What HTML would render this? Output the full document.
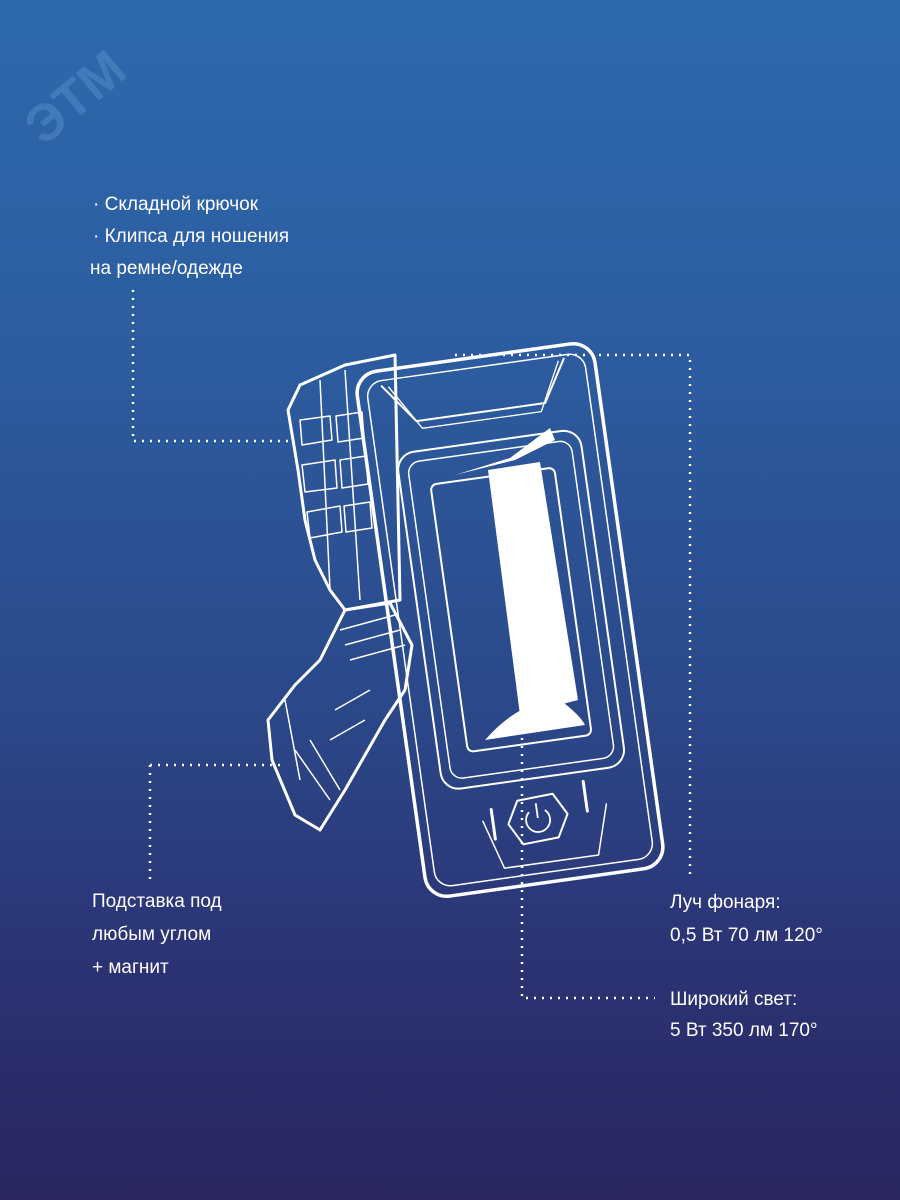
<!DOCTYPE html>
<html><head><meta charset="utf-8"><style>
html,body{margin:0;padding:0}
body{width:900px;height:1200px;overflow:hidden;background:linear-gradient(180deg,#2e69ae 0%,#2c5c9f 30%,#2b4788 60%,#2b3374 80%,#2a255f 100%);position:relative;font-family:"Liberation Sans Narrow","Liberation Sans",sans-serif;color:#fff}
.t{position:absolute;font-size:19px;line-height:32px;white-space:nowrap}
svg{position:absolute;left:0;top:0}
</style></head><body>
<svg width="900" height="1200" viewBox="0 0 900 1200">
<g opacity="0.35" fill="#6aa0d8">
<text x="30" y="130" font-family="Liberation Sans" font-weight="bold" font-size="52" transform="rotate(-40 60 120)">ЭТМ</text>
</g>
<g stroke="#fff" stroke-width="2.5" stroke-dasharray="2 6" fill="none">
<path d="M133 290 V441 H292"/>
<path d="M150 765 H282"/>
<path d="M150 765 V880"/>
<path d="M455 355 H690 V880"/>
<path d="M522 690 V998 H655"/>
</g>
<g fill="none" stroke="#fff" stroke-linejoin="round">
<!-- side grip -->
<path d="M300 385 L345 365 L395 355 L400 600 L345 610 L330 590 L315 560 L305 520 L298 470 L288 410 Z" stroke-width="3"/>
<path d="M320 380 L330 590 M345 370 L360 600" stroke-width="1.5"/>
<path d="M300 420 L330 416 L332 440 L302 445 Z M302 465 L335 460 L337 488 L305 492 Z M307 512 L340 506 L342 532 L310 538 Z M336 416 L362 412 L364 438 L338 442 Z M340 460 L366 456 L368 484 L342 488 Z M344 506 L370 502 L372 528 L346 532 Z" stroke-width="1.5"/>
<!-- stand clip -->
<path d="M345 610 L390 603 L412 645 L405 690 L385 720 L345 790 L320 830 L295 815 L272 760 L268 720 L295 685 L320 660 Z" stroke-width="3"/>
<path d="M340 630 L395 615 M345 645 L400 630 M350 660 L405 645 M335 710 L370 690 M330 740 L365 720 M295 750 L330 800 M310 740 L340 790 M285 700 L300 780" stroke-width="1.5"/>
<!-- main body -->
<g transform="translate(510 620) rotate(-8)">
<rect x="-120" y="-265" width="240" height="530" rx="22" stroke-width="3.5"/>
<rect x="-110" y="-255" width="220" height="510" rx="16" stroke-width="1.5"/>
<path d="M-95 -250 L-65 -210 L65 -210 L90 -252" stroke-width="2"/>
<path d="M-88 -248 L-60 -202 L60 -202 L84 -250" stroke-width="1.3"/>
<rect x="-90" y="-180" width="185" height="340" rx="18" stroke-width="2"/>
<rect x="-80" y="-170" width="165" height="320" rx="12" stroke-width="1.5"/>
<rect x="-60" y="-145" width="125" height="270" rx="6" stroke-width="2"/>
<path d="M-55 195 L-40 245 L55 245 L70 195" stroke-width="1.5"/>
<path d="M-18 180 L18 178 L30 200 L18 222 L-18 224 L-30 202 Z" stroke-width="2"/>
<path d="M-8 193 A12 12 0 1 0 8 193 M0 185 V200" stroke-width="1.8"/>
<path d="M-45 185 V215 M50 170 V200" stroke-width="3" stroke-linecap="round"/>
</g>
</g>
<!-- lens -->
<g fill="#fff">
<path d="M488 470 L540 462 L578 700 L520 715 Z"/>
<path d="M485 740 Q520 700 560 700 Q580 715 585 725 Z"/>
<path d="M455 475 L510 458 L550 428 L555 440 L515 460 Z"/>
</g>
</svg>
<div class="t" style="left:93px;top:189px">· Складной крючок</div>
<div class="t" style="left:93px;top:221px">· Клипса для ношения</div>
<div class="t" style="left:90px;top:253px">на ремне/одежде</div>
<div class="t" style="left:92px;top:886px">Подставка под</div>
<div class="t" style="left:92px;top:919px">любым углом</div>
<div class="t" style="left:92px;top:952px">+ магнит</div>
<div class="t" style="left:670px;top:887px">Луч фонаря:</div>
<div class="t" style="left:670px;top:920px">0,5 Вт 70 лм 120°</div>
<div class="t" style="left:670px;top:984px">Широкий свет:</div>
<div class="t" style="left:670px;top:1015px">5 Вт 350 лм 170°</div>
</body></html>
